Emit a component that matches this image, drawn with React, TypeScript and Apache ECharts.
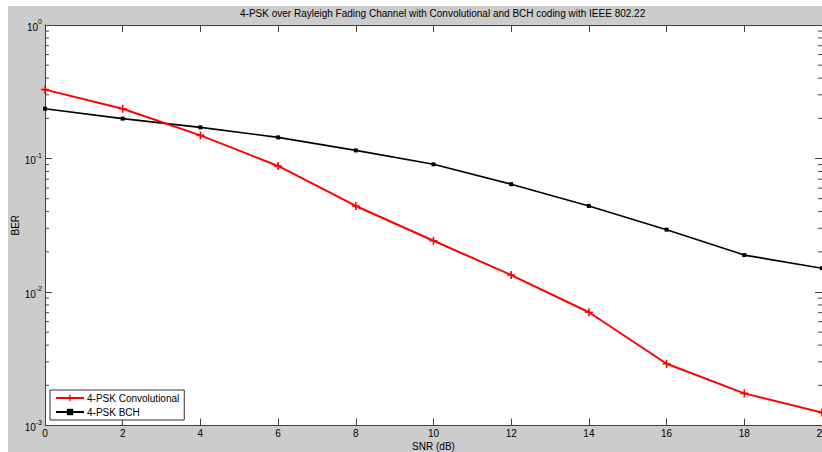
import React, { useEffect, useRef } from "react";
import * as echarts from "echarts";

const snr = [0, 2, 4, 6, 8, 10, 12, 14, 16, 18, 20];
const berConv = [0.328, 0.236, 0.149, 0.0879, 0.0441, 0.0242, 0.0134, 0.00705, 0.0029, 0.00174, 0.00125];
const berBCH = [0.236, 0.199, 0.171, 0.144, 0.115, 0.0905, 0.0642, 0.0441, 0.0293, 0.0189, 0.01506];
const yMinorTicks = [
  0.002, 0.003, 0.004, 0.005, 0.006, 0.007, 0.008, 0.009,
  0.02, 0.03, 0.04, 0.05, 0.06, 0.07, 0.08, 0.09,
  0.2, 0.3, 0.4, 0.5, 0.6, 0.7, 0.8, 0.9,
];
const titleText = "4-PSK over Rayleigh Fading Channel with Convolutional and BCH coding with IEEE 802.22";
const seriesNames = ["4-PSK Convolutional", "4-PSK BCH"];

const FONT = "'Liberation Sans', Arial, Helvetica, sans-serif";
const AXIS = "#404040";
const PLUS = "path://M4,0L6,0L6,4L10,4L10,6L6,6L6,10L4,10L4,6L0,6L0,4L4,4Z";

export default function App() {
  const ref = useRef<HTMLDivElement>(null);
  useEffect(() => {
    if (!ref.current) return;
    const chart = echarts.init(ref.current, undefined, { renderer: "svg" });
    const yLabel = (v: number) => {
      const e = Math.round(Math.log10(v));
      return `{b|10}{s|${e}}`;
    };
    chart.setOption({
      animation: false,
      backgroundColor: "#cccccc",
      textStyle: { fontFamily: FONT },
      title: {
        text: titleText,
        left: 232,
        top: 2,
        padding: 0,
        textStyle: { fontSize: 10, fontWeight: "normal", color: "#000", fontFamily: FONT },
      },
      grid: {
        left: 37,
        top: 19,
        right: 0,
        bottom: 26.5,
        containLabel: false,
        outerBoundsMode: "none",
        show: true,
        backgroundColor: "#ffffff",
        borderWidth: 0,
      },
      legend: {
        data: seriesNames,
        orient: "vertical",
        left: 42,
        top: 384,
        backgroundColor: "#ffffff",
        borderColor: "#333",
        borderWidth: 1,
        borderRadius: 0,
        padding: [3, 5, 3, 5],
        itemWidth: 28,
        itemHeight: 8,
        itemGap: 4,
        textStyle: { fontSize: 10, color: "#000", fontFamily: FONT, padding: [0, 0, 0, -2] },
      },
      xAxis: [
        {
          type: "value",
          min: 0,
          max: 20,
          interval: 2,
          name: "SNR (dB)",
          nameLocation: "middle",
          nameGap: 16,
          nameMoveOverlap: false,
          nameTextStyle: { fontSize: 10, color: "#000", fontFamily: FONT },
          axisLine: { show: true, lineStyle: { color: AXIS, width: 1 } },
          axisTick: { show: true, inside: true, length: 7, lineStyle: { color: AXIS } },
          axisLabel: { margin: 3, fontSize: 10, color: "#000", fontFamily: FONT },
          splitLine: { show: false },
        },
        {
          type: "value",
          position: "top",
          min: 0,
          max: 20,
          interval: 2,
          axisLine: { show: true, onZero: false, lineStyle: { color: AXIS, width: 1 } },
          axisTick: { show: true, inside: true, length: 7, lineStyle: { color: AXIS } },
          axisLabel: { show: false },
          splitLine: { show: false },
        },
      ],
      yAxis: [
        {
          type: "log",
          logBase: 10,
          min: 0.001,
          max: 1,
          name: "BER",
          nameLocation: "middle",
          nameGap: 25,
          nameMoveOverlap: false,
          nameTextStyle: { fontSize: 10, color: "#000", fontFamily: FONT },
          axisLine: { show: true, lineStyle: { color: AXIS, width: 1 } },
          axisTick: { show: true, inside: true, length: 7, lineStyle: { color: AXIS } },
          axisLabel: {
            margin: 3,
            formatter: yLabel,
            rich: {
              b: { fontSize: 10, color: "#000", fontFamily: FONT, verticalAlign: "bottom", lineHeight: 14 },
              s: { fontSize: 7, color: "#000", fontFamily: FONT, verticalAlign: "top", lineHeight: 14 },
            },
          },
          splitLine: { show: false },
        },
        {
          type: "log",
          logBase: 10,
          min: 0.001,
          max: 1,
          position: "right",
          axisLine: { show: true, onZero: false, lineStyle: { color: AXIS, width: 1 } },
          axisTick: { show: true, inside: true, length: 7, lineStyle: { color: AXIS } },
          axisLabel: { show: false },
          splitLine: { show: false },
        },
      ],
      series: [
        {
          name: seriesNames[0],
          type: "line",
          data: snr.map((x, i) => [x, berConv[i]]),
          color: "#ff0000",
          lineStyle: { color: "#ff0000", width: 2 },
          itemStyle: { color: "#ff0000" },
          symbol: PLUS,
          symbolSize: 8,
          showSymbol: true,
          z: 3,
        },
        {
          name: seriesNames[1],
          type: "line",
          data: snr.map((x, i) => [x, berBCH[i]]),
          color: "#000000",
          lineStyle: { color: "#000000", width: 1.6 },
          itemStyle: { color: "#000000" },
          symbol: "rect",
          symbolSize: 4,
          showSymbol: true,
          z: 2,
        },
        {
          name: "minorTicks",
          type: "custom",
          silent: true,
          data: yMinorTicks.map((v) => [0, v]),
          renderItem: (params: any, api: any) => {
            const v = api.value(1);
            const pL = api.coord([0, v]);
            const pR = api.coord([20, v]);
            return {
              type: "group",
              children: [
                { type: "line", shape: { x1: pL[0], y1: pL[1], x2: pL[0] + 4, y2: pL[1] }, style: { stroke: AXIS, lineWidth: 1 } },
                { type: "line", shape: { x1: pR[0] - 4, y1: pR[1], x2: pR[0], y2: pR[1] }, style: { stroke: AXIS, lineWidth: 1 } },
              ],
            };
          },
          z: 1,
        },
      ],
    });
    return () => chart.dispose();
  }, []);
  return (
    <div style={{ position: "fixed", left: 0, top: 0, width: 822, height: 452, background: "#fff" }}>
      <div ref={ref} style={{ position: "absolute", left: 8, top: 6, width: 814, height: 446 }} />
    </div>
  );
}
